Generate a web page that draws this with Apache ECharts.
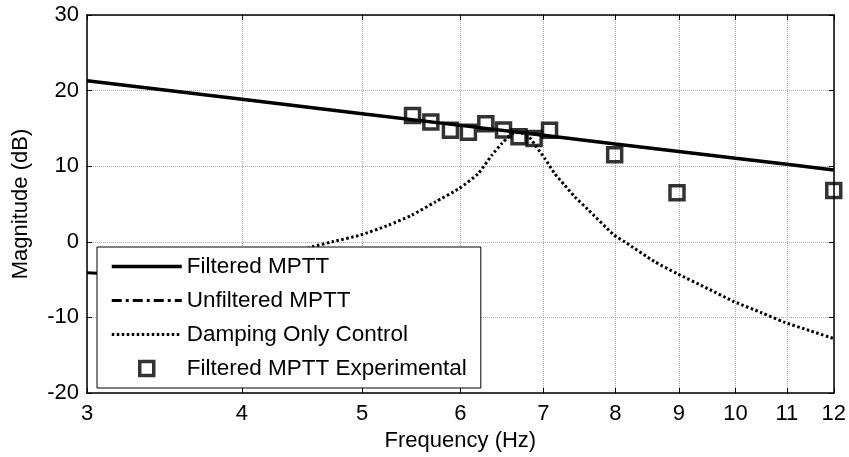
<!DOCTYPE html>
<html><head><meta charset="utf-8">
<script src="https://cdn.jsdelivr.net/npm/echarts@6/dist/echarts.min.js"></script>
<style>html,body{margin:0;padding:0;background:#fff}#c{width:849px;height:457px}</style>
</head><body><div id="c"></div>
<script>
const freqTicks = [3,4,5,6,7,8,9,10,11,12];
const magTicks = [-20,-10,0,10,20,30];
const filteredFreq = [3,4,5,6,7,8,9,10,11,12];
const filteredMag = [21.3,18.85,16.95,15.4,14.1,12.95,11.95,11.05,10.25,9.5];
const unfilteredFreq = [3,3.5,4,4.5,5,5.5];
const unfilteredMag = [-4.1,-4.6,-5.5,-7,-9,-12];
const dampingFreq = [3.6,4.0,4.3,4.56,4.73,4.98,5.25,5.48,5.73,5.98,6.2,6.36,6.48,6.56,6.64,6.72,6.8,6.91,7.02,7.15,7.28,7.42,7.6,7.98,8.14,8.6,8.97,9.5,9.97,10.5,10.93,11.5,12];
const dampingMag = [-11,-5.5,-2.2,-0.66,0,0.88,2.2,3.5,5.3,7.0,9.0,11.45,13.0,13.9,14.45,14.4,14.1,12.55,11.0,9.0,7.5,5.95,4.3,0.9,0,-2.6,-4.2,-6.2,-7.9,-9.4,-10.6,-11.8,-12.8];
const expFreq = [5.49,5.68,5.89,6.09,6.29,6.50,6.69,6.88,7.08,7.99,8.97,12];
const expMag = [16.7,15.85,14.75,14.5,15.6,14.8,13.9,13.65,14.75,11.5,6.5,6.8];
const seriesNames = ['Filtered MPTT','Unfiltered MPTT','Damping Only Control','Filtered MPTT Experimental'];

const pair = (xs, ys) => xs.map((x, i) => [x, ys[i]]);
const FONT = 'Liberation Sans, Arial, sans-serif';
const hideSym = {color: 'rgba(0,0,0,0)', borderColor: 'rgba(0,0,0,0)', borderWidth: 0};

const chart = echarts.init(document.getElementById('c'), null, {renderer: 'canvas'});
const baseX = {
  type: 'log', logBase: 10, min: 3, max: 12,
  axisLine: {show: true, onZero: false, lineStyle: {color: '#000', width: 1.5}},
  axisTick: {show: true, inside: true, length: 5, customValues: freqTicks, lineStyle: {color: '#000', width: 1}},
  minorTick: {show: false}, minorSplitLine: {show: false}
};
const baseY = {
  type: 'value', min: -20, max: 30, interval: 10,
  axisLine: {show: true, onZero: false, lineStyle: {color: '#000', width: 1.5}},
  axisTick: {show: true, inside: true, length: 5, lineStyle: {color: '#000', width: 1}}
};
chart.setOption({
  animation: false,
  backgroundColor: '#fff',
  grid: {left: 87, right: 12, top: 15, bottom: 64, containLabel: false},
  xAxis: [
    Object.assign({}, baseX, {
      position: 'bottom',
      name: 'Frequency (Hz)', nameLocation: 'middle', nameGap: 33,
      nameTextStyle: {fontFamily: FONT, fontSize: 22, color: '#000'},
      axisLabel: {show: true, customValues: freqTicks, margin: 10, fontFamily: FONT, fontSize: 22, color: '#000', showMinLabel: true, showMaxLabel: true},
      splitLine: {show: true, lineStyle: {color: '#aaa', type: 'dotted', width: 1}}
    }),
    Object.assign({}, baseX, {
      position: 'top',
      axisLabel: {show: false},
      splitLine: {show: false}
    })
  ],
  yAxis: [
    Object.assign({}, baseY, {
      position: 'left',
      name: 'Magnitude (dB)', nameLocation: 'middle', nameGap: 55, nameRotate: 90,
      nameTextStyle: {fontFamily: FONT, fontSize: 22, color: '#000'},
      axisLabel: {show: true, margin: 8, fontFamily: FONT, fontSize: 22, color: '#000'},
      splitLine: {show: true, lineStyle: {color: '#aaa', type: 'dotted', width: 1}}
    }),
    Object.assign({}, baseY, {
      position: 'right',
      axisLabel: {show: false},
      splitLine: {show: false}
    })
  ],
  legend: {
    orient: 'vertical', left: 97, top: 247,
    itemWidth: 70, itemHeight: 14, itemGap: 11,
    padding: [8, 14, 8, 13],
    backgroundColor: '#fff', borderColor: '#000', borderWidth: 1, borderRadius: 0,
    textStyle: {fontFamily: FONT, fontSize: 22.5, color: '#000'},
    symbolKeepAspect: true,
    data: [
      {name: seriesNames[0], itemStyle: hideSym, lineStyle: {width: 3.5}},
      {name: seriesNames[1], itemStyle: hideSym, lineStyle: {width: 3}},
      {name: seriesNames[2], itemStyle: hideSym, lineStyle: {width: 3}},
      {name: seriesNames[3], icon: 'path://M0,0H10V10H0Z', itemStyle: {color: 'rgba(0,0,0,0)', borderColor: '#000', borderWidth: 3.5}}
    ]
  },
  series: [
    {
      name: seriesNames[0], type: 'line', data: pair(filteredFreq, filteredMag),
      symbol: 'none', showSymbol: false, clip: true,
      lineStyle: {color: '#000', width: 3.5}, itemStyle: {color: '#000'}
    },
    {
      name: seriesNames[1], type: 'line', data: pair(unfilteredFreq, unfilteredMag),
      symbol: 'none', showSymbol: false, clip: true, smooth: 0.3,
      lineStyle: {color: '#000', width: 3, type: [10, 4, 3, 4]}, itemStyle: {color: '#000'}
    },
    {
      name: seriesNames[2], type: 'line', data: pair(dampingFreq, dampingMag),
      symbol: 'none', showSymbol: false, clip: true, smooth: 0.2,
      lineStyle: {color: '#000', width: 3, type: [2.5, 2.5]}, itemStyle: {color: '#000'}
    },
    {
      name: seriesNames[3], type: 'scatter', data: pair(expFreq, expMag),
      symbol: 'rect', symbolSize: 14, clip: false,
      itemStyle: {color: 'rgba(0,0,0,0)', borderColor: '#000', borderWidth: 3.5}
    }
  ]
});
</script>
</body></html>
